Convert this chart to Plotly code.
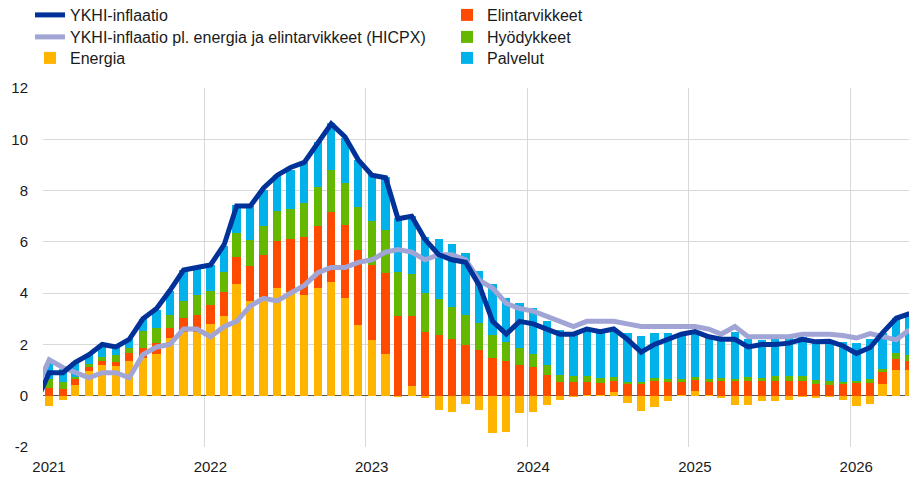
import pandas as pd
import plotly.graph_objects as go

# Monthly categories: bars Jan 2021 - May 2026, lines Dec 2020 - May 2026
bar_months = pd.date_range("2021-01-01", periods=65, freq="MS") + pd.Timedelta(days=14)
line_months = pd.date_range("2020-12-01", periods=66, freq="MS") + pd.Timedelta(days=14)

energia = [-0.39, -0.16, 0.42, 0.97, 1.2, 1.16, 1.35, 1.46, 1.64, 2.25, 2.5, 2.47,
           2.8, 3.12, 4.36, 3.7, 3.85, 4.19, 4.06, 3.94, 4.19, 4.44, 3.81, 2.77,
           2.18, 1.63, -0.05, 0.36, -0.1, -0.57, -0.64, -0.32, -0.55, -1.45, -1.42, -0.68,
           -0.63, -0.37, -0.16, -0.05, 0.03, 0.02, 0.13, -0.29, -0.58, -0.44, -0.19, 0.01,
           0.17, 0.02, -0.1, -0.35, -0.35, -0.22, -0.22, -0.18, -0.04, -0.1, -0.06, -0.18,
           -0.39, -0.31, 0.47, 0.99, 0.99]
elintarvikkeet = [0.3, 0.27, 0.23, 0.15, 0.15, 0.14, 0.33, 0.4, 0.42, 0.38, 0.55, 0.69,
                  0.74, 0.91, 1.06, 1.34, 1.62, 1.86, 2.04, 2.25, 2.44, 2.74, 2.83, 2.9,
                  2.92, 3.16, 3.12, 2.75, 2.5, 2.35, 2.2, 1.96, 1.77, 1.47, 1.36, 1.21,
                  1.12, 0.79, 0.52, 0.52, 0.52, 0.49, 0.43, 0.45, 0.45, 0.56, 0.52, 0.52,
                  0.45, 0.52, 0.56, 0.56, 0.58, 0.56, 0.58, 0.58, 0.56, 0.47, 0.43, 0.49,
                  0.49, 0.49, 0.45, 0.45, 0.35]
hyodykkeet = [0.35, 0.25, 0.09, 0.1, 0.17, 0.3, 0.17, 0.65, 0.58, 0.53, 0.65, 0.78,
              0.56, 0.79, 0.91, 1.04, 1.13, 1.17, 1.17, 1.32, 1.49, 1.62, 1.65, 1.69,
              1.72, 1.69, 1.7, 1.62, 1.52, 1.42, 1.25, 1.19, 1.06, 0.91, 0.75, 0.64,
              0.52, 0.39, 0.29, 0.23, 0.2, 0.17, 0.17, 0.1, 0.1, 0.12, 0.14, 0.13,
              0.1, 0.1, 0.13, 0.1, 0.14, 0.13, 0.17, 0.17, 0.19, 0.16, 0.16, 0.06,
              0.09, 0.16, 0.12, 0.22, 0.23]
palvelut = [0.64, 0.54, 0.56, 0.38, 0.46, 0.3, 0.35, 0.49, 0.71, 0.92, 1.2, 1.0,
            1.0, 1.03, 1.1, 1.32, 1.43, 1.39, 1.53, 1.62, 1.78, 1.82, 1.75, 1.84,
            1.78, 2.03, 2.13, 2.27, 2.16, 2.34, 2.47, 2.43, 2.04, 1.97, 1.69, 1.77,
            1.78, 1.75, 1.77, 1.72, 1.83, 1.84, 1.83, 1.9, 1.78, 1.77, 1.78, 1.8,
            1.73, 1.69, 1.6, 1.84, 1.5, 1.49, 1.45, 1.49, 1.55, 1.56, 1.6, 1.56,
            1.49, 1.56, 1.4, 1.36, 1.62]

ykhi = [-0.3,
        0.9, 0.9, 1.3, 1.6, 2.0, 1.9, 2.2, 3.0, 3.4, 4.1, 4.9, 5.0,
        5.1, 5.9, 7.4, 7.4, 8.1, 8.6, 8.9, 9.1, 9.9, 10.6, 10.1, 9.2,
        8.6, 8.5, 6.9, 7.0, 6.1, 5.5, 5.3, 5.2, 4.3, 2.9, 2.4, 2.9,
        2.8, 2.6, 2.4, 2.4, 2.6, 2.5, 2.6, 2.2, 1.7, 2.0, 2.2, 2.4,
        2.5, 2.3, 2.2, 2.2, 1.9, 2.0, 2.0, 2.05, 2.2, 2.1, 2.12, 1.95,
        1.65, 1.88, 2.45, 3.02, 3.2]
hicpx = [0.2,
         1.4, 1.1, 0.9, 0.7, 0.9, 0.9, 0.7, 1.6, 1.9, 2.0, 2.6, 2.6,
         2.3, 2.7, 2.9, 3.5, 3.8, 3.7, 4.0, 4.3, 4.8, 5.0, 5.0, 5.2,
         5.3, 5.6, 5.7, 5.6, 5.3, 5.5, 5.5, 5.3, 4.5, 4.2, 3.6, 3.4,
         3.3, 3.1, 2.9, 2.7, 2.9, 2.9, 2.9, 2.8, 2.7, 2.7, 2.7, 2.7,
         2.7, 2.6, 2.4, 2.7, 2.3, 2.3, 2.3, 2.3, 2.4, 2.4, 2.4, 2.35,
         2.25, 2.42, 2.3, 2.18, 2.57]

y_ticks = [-2, 0, 2, 4, 6, 8, 10, 12]
y_ticktext = ["-2", "0", "2", "4", "6", "8", "10", "12"]

BAR_W = 18.8 * 86400000  # ms
FONT = "Liberation Sans, Arial, sans-serif"

# The page body has an 8px margin, so the figure is drawn 8px smaller.
W, H = 909, 469
ML, MR, MT, MB = 35, 0, 80, 30
PW, PH = W - ML - MR, H - MT - MB

# legend slots: (x of item box, top of item box) in figure pixels
col_x = [22, 439]
row_top = [-10, 12, 33]

def leg_pos(col, row):
    return dict(x=(col_x[col] - ML) / PW, y=1 + (MT - row_top[row]) / PH,
                xanchor="left", yanchor="top", bgcolor="rgba(0,0,0,0)",
                font=dict(size=16), borderwidth=0)

fig = go.Figure()
bar_specs = [
    ("Energia", energia, "#ffb400", "legend3"),
    ("Elintarvikkeet", elintarvikkeet, "#ff4b00", "legend4"),
    ("Hyödykkeet", hyodykkeet, "#65b800", "legend5"),
    ("Palvelut", palvelut, "#00b1ea", "legend6"),
]
for name, vals, col, leg in bar_specs:
    fig.add_trace(go.Bar(x=bar_months, y=vals, name=name, marker_color=col,
                         marker_line_width=0, width=BAR_W, legend=leg))

fig.add_trace(go.Scatter(x=line_months, y=hicpx, mode="lines",
                         name="YKHI-inflaatio pl. energia ja elintarvikkeet (HICPX)",
                         line=dict(color="#a0a5d6", width=5), legend="legend2"))
fig.add_trace(go.Scatter(x=line_months, y=ykhi, mode="lines", name="YKHI-inflaatio",
                         line=dict(color="#003299", width=5), legend="legend"))

fig.update_layout(
    width=W, height=H,
    margin=dict(l=ML, r=MR, t=MT, b=MB, autoexpand=False),
    paper_bgcolor="white", plot_bgcolor="white",
    barmode="relative", bargap=0,
    font=dict(family=FONT, size=15, color="#1a1a1a"),
    showlegend=True,
    legend=leg_pos(0, 0), legend2=leg_pos(0, 1), legend3=leg_pos(0, 2),
    legend4=leg_pos(1, 0), legend5=leg_pos(1, 1), legend6=leg_pos(1, 2),
    xaxis=dict(type="date", range=["2021-01-01", "2026-06-01"], tick0="2021-01-01",
               dtick="M12", tickformat="%Y", showgrid=True, gridcolor="#d9d9d9",
               gridwidth=1, ticks="", showline=False, zeroline=False,
               ticklabelshift=6, ticklabelstandoff=9, tickfont=dict(size=15)),
    yaxis=dict(range=[-2, 12], tickmode="array", tickvals=y_ticks, ticktext=y_ticktext,
               showgrid=True, gridcolor="#d9d9d9", gridwidth=1,
               zeroline=True, zerolinecolor="#555555", zerolinewidth=1, ticks="",
               showline=False, ticklabelstandoff=14, tickfont=dict(size=15)),
)

fig.write_html("out.html")
